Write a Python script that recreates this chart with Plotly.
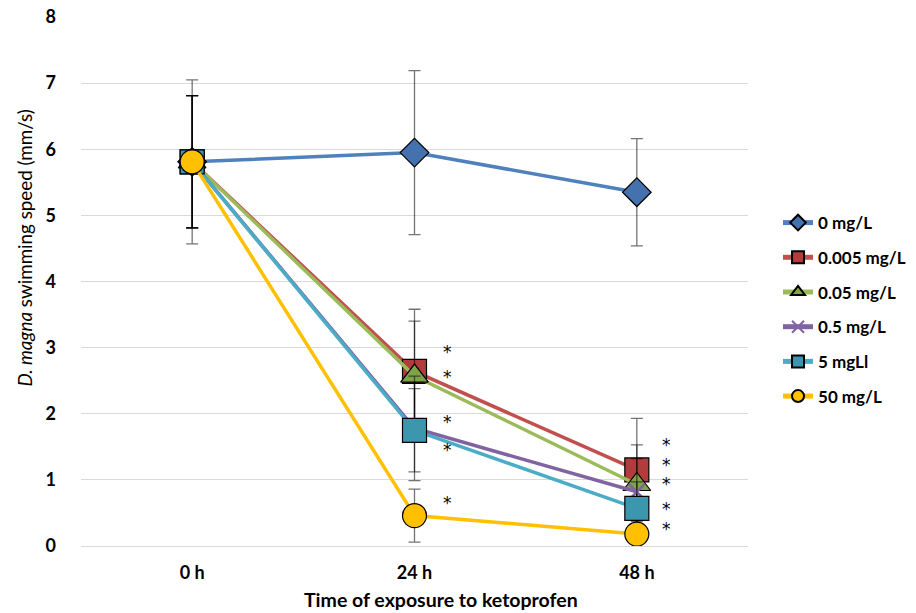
import plotly.graph_objects as go

times = ["0 h", "24 h", "48 h"]
series_names = ["0 mg/L", "0.005 mg/L", "0.05 mg/L", "0.5 mg/L", "5 mgLl", "50 mg/L"]
speed_0 = [5.81, 5.95, 5.35]
speed_0005 = [5.81, 2.64, 1.15]
speed_005 = [5.81, 2.57, 0.93]
speed_05 = [5.81, 1.78, 0.82]
speed_5 = [5.81, 1.75, 0.57]
speed_50 = [5.81, 0.46, 0.18]
err_0 = [1.24, 1.24, 0.81]
err_0005 = [1.0, 0.94, 0.78]
err_005 = [1.0, 0.83, 0.60]
err_05 = [1.0, 0.79, 0.50]
err_5 = [1.0, 0.63, 0.40]
err_50 = [1.0, 0.40, 0.15]
star_24h = [2.97, 2.59, 1.91, 1.48, 0.68]
star_48h = [1.56, 1.26, 0.97, 0.59, 0.29]

values = [speed_0, speed_0005, speed_005, speed_05, speed_5, speed_50]
errors = [err_0, err_0005, err_005, err_05, err_5, err_50]
line_colors = ["#4F81BD", "#C0504D", "#9BBB59", "#8064A2", "#4BACC6", "#FFC000"]
fill_colors = ["#4372AE", "#B23B3B", "#7FA34A", "#8064A2", "#3B96AE", "#FFC000"]
symbols = ["diamond", "square", "triangle-up", "x-thin", "square", "circle"]
sizes = [22, 24, 24, 16, 24, 24]

FONT = "Lato"
fig = go.Figure()
for i, name in enumerate(series_names):
    if symbols[i] == "x-thin":
        marker = dict(symbol="x-thin", size=sizes[i], color=line_colors[i],
                      line=dict(color=line_colors[i], width=2.5))
    else:
        marker = dict(symbol=symbols[i], size=sizes[i], color=fill_colors[i],
                      line=dict(color="#000000", width=1.2))
    fig.add_trace(go.Scatter(
        x=times, y=values[i], name=name, mode="lines+markers",
        line=dict(color=line_colors[i], width=3.5),
        marker=marker, legendgroup=name,
        error_y=dict(type="data", array=errors[i], visible=True,
                     color="rgba(0,0,0,0.55)", thickness=1.3, width=6),
    ))

for y in star_24h:
    fig.add_annotation(x="24 h", y=y, text="*", showarrow=False, xshift=33, yshift=-2,
                       font=dict(family="DejaVu Sans", size=17, color="#000000"))
for y in star_48h:
    fig.add_annotation(x="48 h", y=y, text="*", showarrow=False, xshift=30, yshift=-2,
                       font=dict(family="DejaVu Sans", size=17, color="#000000"))

# axis titles (placed as annotations to match the reference's off-centre positions)
fig.add_annotation(xref="paper", yref="paper", x=0.54, y=-0.102, yanchor="middle",
                   text="<b>Time of exposure to ketoprofen</b>", showarrow=False,
                   font=dict(family=FONT, size=19.5, color="#000000"))
fig.add_annotation(xref="paper", yref="paper", x=-0.084, y=0.564, xanchor="center",
                   yanchor="middle", textangle=-90,
                   text="<i>D. magna</i> swimming speed (mm/s)", showarrow=False,
                   font=dict(family=FONT, size=18.8, color="#000000"))

fig.update_layout(
    width=916, height=613,
    margin=dict(l=81, r=168, t=17, b=67, autoexpand=False),
    paper_bgcolor="white", plot_bgcolor="white",
    font=dict(family=FONT, color="#000"),
    legend=dict(x=1.045, xanchor="left", y=0.447, yanchor="middle",
                font=dict(family=FONT, size=17, weight="bold"),
                itemsizing="constant", tracegroupgap=9.6,
                bgcolor="rgba(0,0,0,0)"),
    xaxis=dict(type="category", range=[-0.5, 2.5], showgrid=False,
               showline=False, ticks="", automargin=False, ticklabelstandoff=14,
               tickfont=dict(family=FONT, size=18, weight="bold")),
    yaxis=dict(range=[0, 8], dtick=1, showgrid=True, gridcolor="#D9D9D9",
               gridwidth=1, zeroline=True, zerolinecolor="#D9D9D9", zerolinewidth=1,
               ticks="", ticklabelstandoff=24, automargin=False,
               tickfont=dict(family=FONT, size=18, weight="bold")),
)

fig.write_html("out.html", config={"displayModeBar": False},
               post_script="document.body.style.margin='0';")
